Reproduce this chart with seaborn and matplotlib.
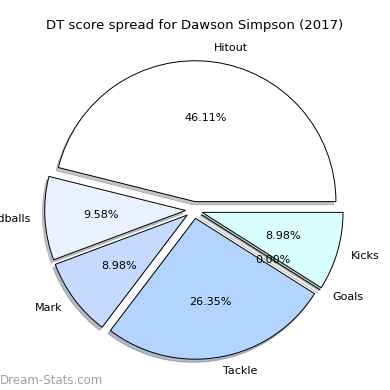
import matplotlib
matplotlib.use("Agg")
import matplotlib.pyplot as plt
import seaborn as sns

# DT score breakdown
labels = ['Hitout', 'Handballs', 'Mark', 'Tackle', 'Goals', 'Kicks']
shares = [46.11, 9.58, 8.98, 26.35, 0.0, 8.98]
colors = ['#ffffff', '#ebf2ff', '#c6d9ff', '#b3d4ff', '#d0d0d0', '#d9ffff']
explode = [0.06] * len(labels)

sns.set_style("white")
plt.rcParams['font.family'] = ['DejaVu Sans']
plt.rcParams['text.color'] = 'black'

fig = plt.figure(figsize=(3.9, 3.9), dpi=100)
ax = fig.add_axes([0.046, 0.01, 0.903, 0.903])

ax.pie(shares, labels=labels, colors=colors, explode=explode,
       autopct='%.2f%%', startangle=0,
       shadow={'ox': -0.012, 'oy': -0.016, 'shade': 0.45},
       wedgeprops={'edgecolor': 'black', 'linewidth': 0.7},
       textprops={'fontsize': 8, 'color': 'black'})
ax.set_aspect('equal')

fig.text(0.5, 0.935, 'DT score spread for Dawson Simpson (2017)',
         ha='center', va='center', fontsize=9.5, color='black')
fig.text(0.0, 0.025, 'Dream-Stats.com', ha='left', va='center',
         fontsize=8.5, color='#a0a0a0')

fig.savefig('out.png', dpi=100)
